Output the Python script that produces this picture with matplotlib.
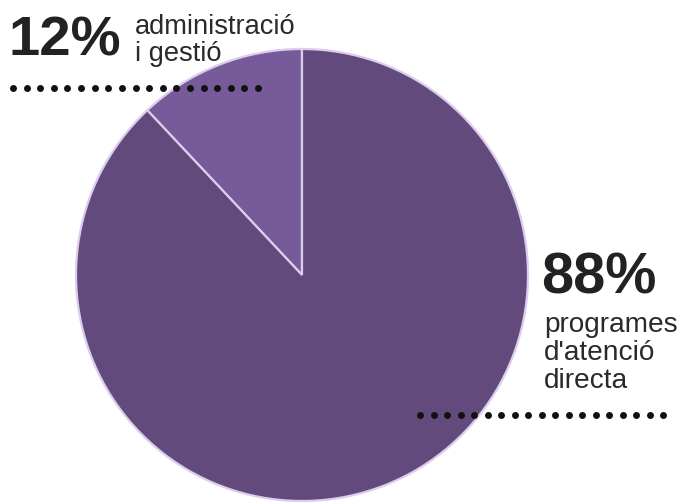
#!/usr/bin/env python3

# %% load libraries
import numpy as np
import matplotlib
matplotlib.use('Agg')
import matplotlib.pyplot as plt


# %% data
shares = [12, 88]
pcts = ['12%', '88%']
labels = ['administració\ni gestió', "programes\nd'atenció\ndirecta"]
colors = ['#775a99', '#624b7c']


# %% figure
W, H = 679, 504
fig = plt.figure(figsize=(W / 100, H / 100), dpi=100)
ax = fig.add_axes([0, 0, 1, 1])
plt.rcParams['font.family'] = ['Liberation Sans', 'DejaVu Sans']


def Y(y):
    # --+ pixel row (top-down) to data y
    return H - y


# --+ pie
ax.pie(shares, colors=colors, startangle=90, counterclock=True,
       center=(302, Y(275)), radius=226,
       wedgeprops=dict(edgecolor='#dccdee', linewidth=1.6))
ax.set_xlim(0, W)
ax.set_ylim(0, H)
ax.set_aspect('equal')
ax.axis('off')

# --+ big percentages
ax.text(8, Y(56), pcts[0], fontsize=40.5, fontweight='bold',
        color='#222222', va='baseline', ha='left')
ax.text(541, Y(294), pcts[1], fontsize=41.5, fontweight='bold',
        color='#222222', va='baseline', ha='left')

# --+ category labels (baseline = last line)
ax.text(135, Y(61), labels[0], fontsize=19.6, color='#2a2a2a',
        va='baseline', ha='left', linespacing=1.05)
ax.text(544, Y(388), labels[1], fontsize=20.2, color='#2a2a2a',
        va='baseline', ha='left', linespacing=1.11)

# --+ dotted rules
ax.plot(np.linspace(13, 258, 19), np.full(19, Y(88)), 'o',
        ms=5, color='#111111', mec='none')
ax.plot(np.linspace(420, 663, 19), np.full(19, Y(415)), 'o',
        ms=5, color='#111111', mec='none')

# --+ save plot
plt.savefig('out.png', dpi=100)
